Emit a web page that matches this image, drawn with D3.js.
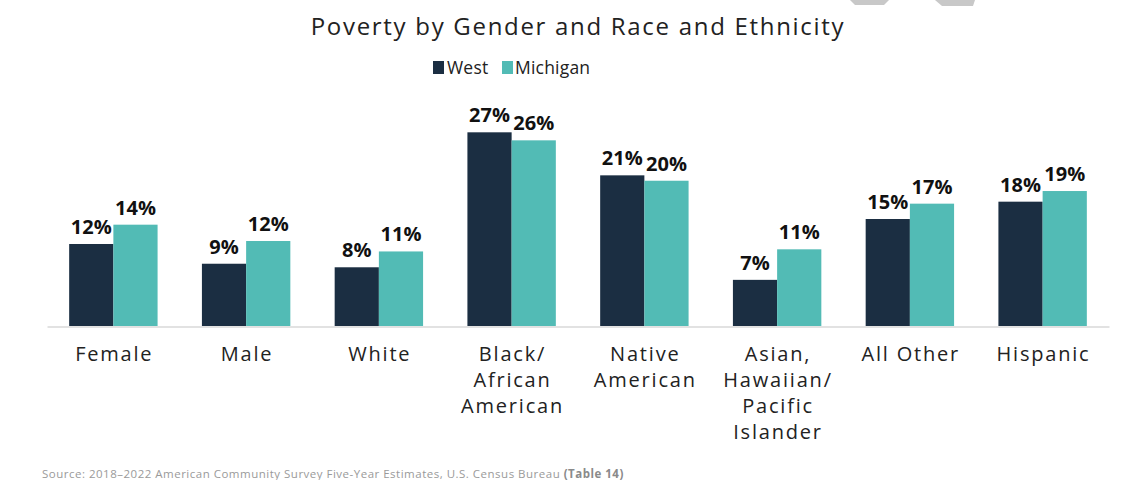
<!DOCTYPE html>
<html>
<head>
<meta charset="utf-8">
<script src="https://cdn.jsdelivr.net/npm/d3@7/dist/d3.min.js"></script>
<style>
  html, body { margin: 0; padding: 0; background: #fff; }
  svg { display: block; }
</style>
</head>
<body>
<svg id="chart" width="1122" height="480"></svg>
<script>
const categories = ["Female", "Male", "White", "Black/\nAfrican\nAmerican", "Native\nAmerican", "Asian,\nHawaiian/\nPacific\nIslander", "All Other", "Hispanic"];
const seriesNames = ["West", "Michigan"];
const west = [11.55, 8.77, 8.27, 27.28, 21.22, 6.5, 15.07, 17.51];
const michigan = [14.27, 11.97, 10.5, 26.15, 20.46, 10.8, 17.23, 19.01];
const colors = ["#1b2e42", "#52bbb5"];
const titleText = "Poverty by Gender and Race and Ethnicity";
const sourceText = "Source: 2018\u20132022 American Community Survey Five-Year Estimates, U.S. Census Bureau ";
const sourceBold = "(Table 14)";

const svg = d3.select("#chart");
const FONT = "'Open Sans', 'Noto Sans', sans-serif";

// decoration at top right
svg.append("polygon").attr("points", "850,0 889,0 884,5 855,5").attr("fill", "#c8c8c8");
svg.append("polygon").attr("points", "935,0 975,0 973,6 942,6").attr("fill", "#c8c8c8");

// title
svg.append("text").attr("x", 578).attr("y", 35).attr("text-anchor", "middle")
  .attr("font-family", FONT).attr("font-size", 24).attr("fill", "#222")
  .attr("letter-spacing", 1.7).text(titleText);

// legend
const legend = svg.append("g");
const legendItems = [{x: 433, tx: 447}, {x: 502, tx: 515}];
seriesNames.forEach((n, i) => {
  legend.append("rect").attr("x", legendItems[i].x).attr("y", 61).attr("width", 11).attr("height", 13).attr("fill", colors[i]);
  legend.append("text").attr("x", legendItems[i].tx).attr("y", 74)
    .attr("font-family", FONT).attr("font-size", 17.5).attr("fill", "#222").attr("letter-spacing", 0.2).text(n);
});

const x0 = d3.scaleBand().domain(categories).range([47, 1109]).padding(0);
const barW = x0.step() * 0.333;
const x1 = d3.scaleBand().domain(seriesNames).range([0, barW * 2]);
const y = d3.scaleLinear().domain([0, 30]).range([326, 326 - 213]);

const data = categories.map((c, i) => ({cat: c, vals: [west[i], michigan[i]]}));

const groups = svg.append("g").selectAll("g").data(data).join("g")
  .attr("transform", d => `translate(${x0(d.cat) + x0.bandwidth() / 2 - barW},0)`);

groups.selectAll("rect").data(d => d.vals.map((v, i) => ({v, i}))).join("rect")
  .attr("x", d => x1(seriesNames[d.i]))
  .attr("width", barW)
  .attr("y", d => y(d.v))
  .attr("height", d => y(0) - y(d.v))
  .attr("fill", d => colors[d.i]);

groups.selectAll("text.val").data(d => d.vals.map((v, i) => ({v, i}))).join("text")
  .attr("class", "val")
  .attr("x", d => x1(seriesNames[d.i]) + barW / 2)
  .attr("y", d => y(d.v) - 10)
  .attr("text-anchor", "middle")
  .attr("font-family", FONT).attr("font-weight", 700).attr("font-size", 20)
  .attr("fill", "#111")
  .text(d => Math.round(d.v) + "%");

// axis baseline
const xAxis = d3.axisBottom(x0).tickSize(0).tickFormat("");
const axisG = svg.append("g").attr("transform", "translate(0,326.5)").call(xAxis);
axisG.select(".domain").attr("stroke", "#d9d9d9").attr("stroke-width", 1.5);

// category labels
svg.append("g").selectAll("text").data(categories).join("text")
  .attr("x", d => x0(d) + x0.bandwidth() / 2)
  .attr("y", 361)
  .attr("text-anchor", "middle")
  .attr("font-family", FONT).attr("font-size", 20).attr("fill", "#222").attr("letter-spacing", 1.8)
  .each(function(d) {
    const t = d3.select(this);
    d.split("\n").forEach((line, k) => {
      t.append("tspan").attr("x", x0(d) + x0.bandwidth() / 2 + 0.9).attr("dy", k === 0 ? 0 : 25.9).text(line);
    });
  });

// source
const src = svg.append("text").attr("x", 42).attr("y", 478)
  .attr("font-family", FONT).attr("font-size", 11.5).attr("fill", "#9a9a9a").attr("letter-spacing", 0.5);
src.append("tspan").text(sourceText);
src.append("tspan").attr("font-weight", 700).attr("fill", "#8a8a8a").text(sourceBold);
</script>
</body>
</html>
